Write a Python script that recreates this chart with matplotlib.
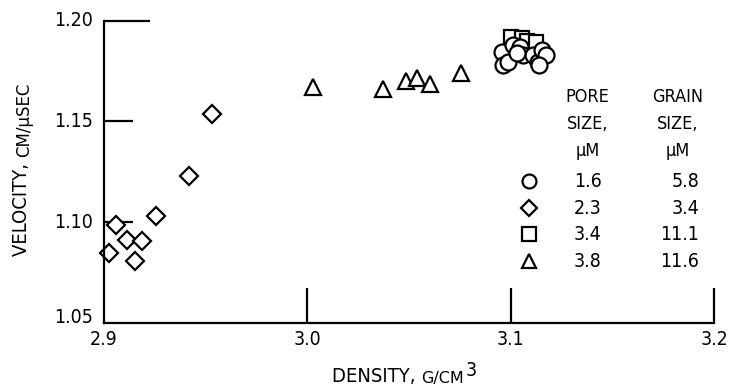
import matplotlib
matplotlib.use("Agg")
import matplotlib.pyplot as plt

# --- DATA ---
circle_x = [3.0955, 3.0963, 3.0988, 3.1012, 3.1045, 3.1062, 3.1110, 3.1135, 3.1152, 3.1176, 3.1030, 3.1140]
circle_y = [1.1846, 1.1780, 1.1796, 1.1880, 1.1871, 1.1830, 1.1830, 1.1796, 1.1854, 1.1830, 1.1840, 1.1780]
diamond_x = [2.9025, 2.9059, 2.9112, 2.9152, 2.9185, 2.9254, 2.9420, 2.9530]
diamond_y = [1.0845, 1.0985, 1.0910, 1.0807, 1.0905, 1.1029, 1.1228, 1.1536]
square_x = [3.1004, 3.1054, 3.1080, 3.1127]
square_y = [1.1920, 1.1912, 1.1900, 1.1896]
triangle_x = [3.0026, 3.0373, 3.0483, 3.0540, 3.0603, 3.0754]
triangle_y = [1.1669, 1.1660, 1.1702, 1.1714, 1.1685, 1.1739]

pore_sizes = ["1.6", "2.3", "3.4", "3.8"]
grain_sizes = ["5.8", "3.4", "11.1", "11.6"]
legend_markers = ["o", "D", "s", "^"]

x_ticks = [2.9, 3.0, 3.1, 3.2]
y_ticks = [1.05, 1.10, 1.15, 1.20]

FS = 14

plt.rcParams["font.family"] = "DejaVu Sans"
plt.rcParams["font.stretch"] = "condensed"

fig = plt.figure(figsize=(7.31, 3.89), dpi=100)
ax = fig.add_axes([104 / 731, 1 - 323 / 389, 610 / 731, (323 - 20.7) / 389])

mk = dict(linestyle="none", markerfacecolor="white", markeredgecolor="black",
          markeredgewidth=1.6, clip_on=False)
ax.plot(diamond_x, diamond_y, marker="D", markersize=9.5, **mk)
ax.plot(triangle_x, triangle_y, marker="^", markersize=11, **mk)
ax.plot(square_x, square_y, marker="s", markersize=10, **mk)
ax.plot(circle_x, circle_y, marker="o", markersize=11.5, **mk)

ax.set_xlim(2.9, 3.2)
ax.set_ylim(1.05, 1.20)
ax.set_xticks(x_ticks)
ax.set_yticks(y_ticks)
ax.set_xticklabels(["%.1f" % v for v in x_ticks], fontsize=FS)
ax.set_yticklabels(["%.2f" % v for v in y_ticks], fontsize=FS)

for s in ["top", "right"]:
    ax.spines[s].set_visible(False)
for s in ["left", "bottom"]:
    ax.spines[s].set_linewidth(1.6)

ax.tick_params(axis="x", direction="in", length=25, width=1.6, pad=5)
ax.tick_params(axis="y", direction="in", length=21, width=1.6, pad=8)
# first x tick sits on the spine; the top y tick is longer
ax.xaxis.get_major_ticks()[0].tick1line.set_visible(False)
ax.yaxis.get_major_ticks()[0].tick1line.set_visible(False)
ax.yaxis.get_major_ticks()[-1].tick1line.set_markersize(33)
for lab in ax.get_yticklabels():
    lab.set_verticalalignment("center")
ax.get_yticklabels()[0].set_verticalalignment("baseline")

# axis labels with small-caps units
xl = fig.text(332 / 731, 1 - 382 / 389, "DENSITY, ", fontsize=14.5,
              ha="left", va="baseline")
xl2 = ax.annotate("G/CM", xy=(1, 0), xycoords=xl, fontsize=11.5,
                  fontstretch="normal", va="bottom")
ax.annotate("3", xy=(1, 0), xycoords=xl2, xytext=(1, 4),
            textcoords="offset points", fontsize=14, va="bottom")

yl = fig.text(0.03, 1 - 256 / 389, "VELOCITY, ", fontsize=14.5, rotation=90,
              ha="center", va="bottom")
ax.annotate("CM/\u00b5SEC", xy=(0.5, 1), xycoords=yl, xytext=(1.5, 0),
            textcoords="offset points", fontsize=12, fontstretch="normal",
            rotation=90, ha="center", va="bottom")

# legend table
col_pore = 0.793
col_grain = 0.976
ax.text(col_pore, 0.778, "PORE\nSIZE,\n\u00b5M", transform=ax.transAxes,
        fontsize=FS - 1, ha="center", va="top", linespacing=1.65)
ax.text(0.940, 0.778, "GRAIN\nSIZE,\n\u00b5M", transform=ax.transAxes,
        fontsize=FS - 1, ha="center", va="top", linespacing=1.65)
row_y = [0.469, 0.380, 0.294, 0.205]
for m, p, g, ry in zip(legend_markers, pore_sizes, grain_sizes, row_y):
    ax.plot([0.696], [ry], marker=m, markersize=10 if m != "D" else 8.5,
            transform=ax.transAxes, **mk)
    ax.text(col_pore, ry, p, transform=ax.transAxes, fontsize=FS,
            ha="center", va="center")
    ax.text(col_grain, ry, g, transform=ax.transAxes, fontsize=FS,
            ha="right", va="center")

fig.savefig("out.png", dpi=100)
